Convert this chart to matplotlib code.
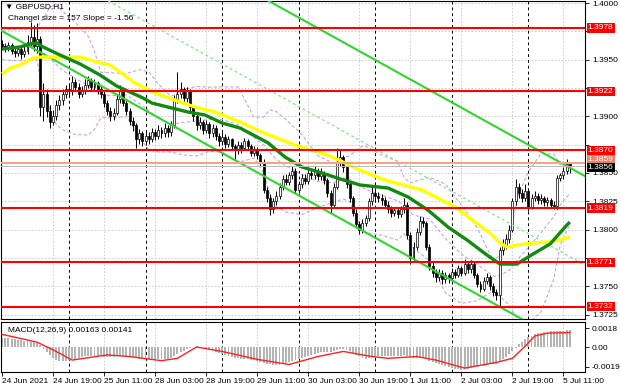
import matplotlib.pyplot as plt
import numpy as np

plt.rcParams['font.family'] = ['Liberation Sans', 'DejaVu Sans']

# GBPUSD H1, prices in pips above 1.3700
BASE = 1.3700
opens = [264, 262, 260, 263, 258, 256, 259, 255, 258, 266, 270, 262, 268, 208, 220, 205, 195, 200, 210, 214,
         220, 224, 222, 230, 226, 220, 223, 228, 232, 226, 229, 224, 220, 212, 205, 200, 203, 215, 222, 212,
         205, 196, 192, 180, 185, 178, 183, 180, 186, 183, 188, 185, 190, 186, 192, 215, 220, 224, 216, 222,
         208, 200, 192, 195, 188, 193, 185, 190, 183, 178, 182, 176, 180, 174, 170, 175, 172, 178, 174, 168,
         171, 166, 160, 135, 128, 118, 125, 130, 138, 145, 142, 148, 152, 135, 140, 146, 143, 150, 148, 152,
         147, 150, 144, 132, 122, 138, 160, 164, 155, 140, 128, 115, 105, 100, 106, 110, 125, 132, 130, 128,
         126, 122, 118, 115, 117, 114, 118, 122, 95, 75, 85, 98, 108, 106, 85, 68, 62, 58, 62, 56,
         60, 57, 63, 60, 66, 62, 70, 65, 70, 60, 52, 48, 55, 58, 50, 45, 42, 82, 86, 92,
         100, 125, 138, 132, 128, 134, 120, 128, 130, 126, 128, 124, 126, 122, 121, 146, 148, 152, 158]
highs = [267, 265, 266, 265, 261, 262, 261, 262, 272, 283, 281, 282, 271, 229, 224, 210, 206, 214, 219, 224,
         228, 229, 236, 233, 229, 227, 233, 236, 234, 233, 231, 227, 222, 214, 208, 207, 219, 228, 224, 214,
         207, 199, 194, 189, 187, 186, 186, 190, 189, 192, 191, 194, 192, 196, 219, 239, 230, 226, 226, 224,
         210, 203, 199, 197, 197, 195, 193, 192, 185, 186, 184, 183, 181, 176, 178, 177, 181, 180, 176, 174,
         173, 168, 162, 138, 131, 128, 134, 141, 148, 149, 151, 156, 154, 143, 149, 149, 153, 153, 156, 154,
         154, 152, 146, 135, 141, 172, 170, 166, 157, 142, 130, 118, 108, 109, 113, 128, 138, 135, 133, 131,
         129, 125, 121, 120, 119, 121, 128, 124, 98, 89, 101, 112, 111, 108, 87, 71, 65, 65, 64, 63,
         62, 66, 65, 69, 68, 74, 72, 73, 72, 62, 55, 58, 62, 60, 53, 48, 85, 92, 96, 104,
         128, 145, 141, 136, 140, 136, 131, 134, 132, 131, 130, 129, 128, 125, 148, 150, 155, 162, 160]
lows = [259, 257, 258, 255, 252, 253, 251, 252, 255, 262, 258, 256, 200, 196, 199, 190, 192, 197, 206, 210,
        216, 217, 219, 222, 216, 217, 220, 225, 222, 223, 220, 216, 208, 201, 196, 197, 201, 212, 209, 201,
        192, 187, 172, 176, 174, 175, 176, 177, 179, 180, 181, 182, 182, 183, 190, 212, 216, 212, 213, 204,
        196, 188, 189, 184, 185, 181, 182, 179, 174, 175, 172, 173, 170, 162, 167, 168, 170, 171, 165, 165,
        162, 156, 132, 124, 113, 115, 122, 127, 135, 139, 139, 145, 132, 132, 137, 140, 140, 145, 145, 144,
        144, 140, 129, 115, 120, 136, 156, 151, 137, 124, 112, 101, 96, 97, 103, 108, 122, 126, 124, 122,
        119, 115, 111, 112, 110, 111, 115, 92, 70, 72, 82, 95, 102, 82, 64, 58, 54, 55, 52, 53,
        53, 55, 57, 58, 59, 60, 62, 62, 57, 49, 45, 46, 52, 47, 41, 38, 32, 78, 83, 88,
        98, 122, 128, 124, 125, 116, 118, 125, 123, 123, 121, 121, 119, 118, 118, 143, 145, 149, 150]
closes = [262, 260, 263, 258, 256, 259, 255, 258, 266, 270, 262, 268, 208, 220, 205, 195, 200, 210, 214, 220,
          224, 222, 230, 226, 220, 223, 228, 232, 226, 229, 224, 220, 212, 205, 200, 203, 215, 222, 212, 205,
          196, 192, 180, 185, 178, 183, 180, 186, 183, 188, 185, 190, 186, 192, 215, 220, 224, 216, 222, 208,
          200, 192, 195, 188, 193, 185, 190, 183, 178, 182, 176, 180, 174, 170, 175, 172, 178, 174, 168, 171,
          166, 160, 135, 128, 118, 125, 130, 138, 145, 142, 148, 152, 135, 140, 146, 143, 150, 148, 152, 147,
          150, 144, 132, 122, 138, 160, 164, 155, 140, 128, 115, 105, 100, 106, 110, 125, 132, 130, 128, 126,
          122, 118, 115, 117, 114, 118, 122, 95, 75, 85, 98, 108, 106, 85, 68, 62, 58, 62, 56, 60,
          57, 63, 60, 66, 62, 70, 65, 70, 60, 52, 48, 55, 58, 50, 45, 42, 82, 86, 92, 100,
          125, 138, 132, 128, 134, 120, 128, 130, 126, 128, 124, 126, 122, 121, 146, 148, 152, 158, 156]

# moving averages (bar index, pips)
ma_fast_x = [0, 5.6, 8.8, 11, 12.9, 18.2, 24.5, 30.7, 36, 44.2, 47, 52, 58.3, 63.6, 69, 74.6, 83.4, 88.7,
             94, 100.3, 106, 112.2, 121, 127.3, 133.5, 139.8, 145.8, 152, 156.1, 161.4, 166.5, 171.8, 177.1, 178]
ma_fast_y = [259.4, 261.2, 263.8, 264.7, 261.2, 254.1, 246.2, 236.5, 226.7, 216.2, 211.7, 208.2, 203.8, 201.2,
             194.1, 189.7, 176.6, 164.1, 155.3, 150.0, 144.7, 139.4, 136.7, 128.8, 117.3, 102.3, 90.8, 77.6,
             69.6, 69.6, 78.5, 87.3, 104.1, 106.7]
ma_slow_x = [0, 2.5, 5.6, 9.7, 11.9, 18.2, 24.5, 29.8, 33.9, 37, 41.7, 48, 54.2, 60.5, 66.8, 74.6, 81.5,
             91.8, 102.2, 107.5, 112.2, 120, 131.7, 142, 148.3, 153, 156.1, 158.3, 161.4, 166.5, 171.8, 177.1, 178]
ma_slow_y = [237.3, 242.6, 245.3, 251.5, 252.3, 252.3, 252.3, 247.9, 245.3, 239.1, 229.4, 220.6, 214.4, 208.2,
             203.8, 195.0, 186.1, 174.7, 165.8, 158.8, 152.6, 143.8, 135.0, 120.0, 106.7, 97.0, 88.2, 84.6,
             86.4, 88.2, 89.1, 92.6, 93.5]

# bollinger bands (bar index, pips)
bb_x = [0, 5, 11, 12, 13, 15, 17, 19, 23, 27, 29, 31, 35, 39, 43, 46, 49, 53, 57, 61, 65, 69, 74, 79, 82,
        84, 86, 89, 94, 99, 104, 107, 109, 112, 114, 119, 124, 126, 128, 129, 134, 139, 144, 149, 154, 156,
        159, 162, 165, 169, 173, 175, 178]
bb_up = [276, 277, 277, 283, 286, 296.6, 298.5, 292.8, 282.9, 270.9, 257.4, 238.8, 238.3, 237.8, 241.1,
         239.5, 228.5, 217.5, 223.7, 226.4, 225.7, 226, 225.9, 199.2, 199.3, 205.9, 204.2, 197.2, 184, 165.2,
         158.5, 164, 164.9, 172.7, 173.7, 165.9, 160.2, 146.2, 141.2, 142.1, 146.3, 140.2, 121.8, 101.5, 72.1,
         77.4, 94.5, 131.4, 151, 167.3, 166.5, 157.2, 159.6]
bb_mid = [262, 261, 262, 258.4, 256.3, 251, 245.7, 240.5, 233.4, 227.2, 223.1, 218.8, 218.4, 218.9, 211.5,
          205, 198.5, 193, 194.8, 195.7, 197.4, 197.2, 192.6, 181.2, 174.9, 168.2, 162.2, 156.3, 148.6, 142.4,
          141.4, 145.7, 144.7, 139, 135.5, 130.5, 125.5, 121.3, 115, 112.9, 109.4, 92.2, 78.3, 69.4, 59, 59.2,
          64.1, 74.9, 84.1, 97.4, 111.5, 121.8, 132.1]
bb_lo = [250, 249, 250, 233, 226, 205.4, 192.9, 188.2, 183.9, 183.5, 188.8, 198.8, 198.5, 200, 181.9, 170.5,
         168.5, 168.5, 165.9, 165, 169.1, 168.4, 159.3, 163.2, 150.5, 130.5, 120.2, 115.4, 113.2, 119.6, 124.3,
         127, 124.5, 105.3, 97.3, 95.1, 90.8, 96.4, 88.8, 83.7, 72.5, 44.2, 34.8, 37.3, 45.9, 41, 33.7, 18.4,
         17.2, 27.5, 56.5, 86.4, 104.6]

# channel: lower line at bar 0, slope per bar, width (pips)
channel_start = 275.3
channel_slope = -1.56
channel_size = 157

levels = [1.3978, 1.3922, 1.3870, 1.3819, 1.3771, 1.3732]
bid = 1.3856
ask = 1.3859
price_ticks = [1.4000, 1.3950, 1.3900, 1.3850, 1.3825, 1.3800, 1.3750, 1.3725]

# MACD main (histogram) and signal, units of 1e-5
macd_hist = [90, 88, 86, 82, 78, 72, 66, 60, 55, 52,
             48, 45, 20, -20, -50, -80, -105, -125, -135, -140,
             -138, -130, -120, -112, -105, -98, -92, -88, -85, -84,
             -86, -90, -95, -98, -100, -98, -90, -85, -86, -90,
             -96, -102, -110, -115, -118, -120, -121, -122, -122, -120,
             -118, -116, -112, -105, -85, -65, -48, -35, -20, -8,
             2, 6, 4, -4, -14, -26, -38, -50, -60, -70,
             -80, -90, -98, -105, -110, -115, -118, -120, -125, -130,
             -135, -142, -152, -162, -170, -175, -176, -172, -165, -155,
             -145, -132, -125, -115, -105, -95, -85, -76, -68, -60,
             -52, -48, -46, -45, -38, -28, -20, -18, -25, -40,
             -58, -75, -92, -105, -112, -110, -102, -95, -90, -86,
             -84, -84, -85, -86, -86, -84, -80, -85, -100, -108,
             -110, -108, -108, -118, -132, -145, -155, -165, -172, -185,
             -195, -205, -212, -218, -220, -218, -212, -205, -198, -192,
             -186, -180, -175, -170, -166, -162, -140, -120, -98, -72,
             -40, -5, 25, 50, 75, 95, 110, 122, 132, 140,
             146, 150, 152, 153, 156, 158, 160, 162, 163]
sig_x = [0, 11, 16, 22, 33, 40, 50, 55, 61, 69, 80, 90, 99, 107, 116, 121, 130, 136, 145, 155, 160, 164, 167, 171, 178]
sig_y = [123, 47, -27, -127, -77, -93, -133, -110, 0, -43, -120, -170, -93, -43, -93, -110, -93, -127, -205,
         -150, -110, 7, 107, 135, 141]

time_ticks = [0, 16, 32, 48, 64, 80, 96, 112, 128, 144, 160, 176]
time_labels = ["24 Jun 2021", "24 Jun 19:00", "25 Jun 11:00", "28 Jun 03:00", "28 Jun 19:00", "29 Jun 11:00",
               "30 Jun 03:00", "30 Jun 19:00", "1 Jul 11:00", "2 Jul 03:00", "2 Jul 19:00", "5 Jul 11:00"]
day_starts = [21, 45, 69, 93, 117, 141, 165]


def px(v):
    return BASE + np.asarray(v, dtype=float) / 10000


o, h, l, c = px(opens), px(highs), px(lows), px(closes)
idx = np.arange(len(c))

W, H = 620, 388
FS = 6
fig = plt.figure(figsize=(6.2, 3.88), dpi=100)
ax = fig.add_axes([1 / W, 1 - 319 / H, 584 / W, 318 / H])
ax2 = fig.add_axes([1 / W, 1 - 372 / H, 584 / W, 50 / H], sharex=ax)

ax.set_xlim(-0.31, 182.76)
ax.set_ylim(1.37211, 1.40018)

# grid
for t in np.arange(1.3725, 1.4001, 0.0025):
    ax.axhline(t, color='#c8c8c8', lw=0.6, ls=(0, (2, 2)), zorder=0)
for b in time_ticks[1:]:
    for a in (ax, ax2):
        a.axvline(b, color='#c8c8c8', lw=0.6, ls=(0, (2, 2)), zorder=0)
for b in day_starts:
    for a in (ax, ax2):
        a.axvline(b, color='black', lw=0.7, ls=(0, (3, 3)), zorder=1)

# bollinger bands
for band in (bb_up, bb_mid, bb_lo):
    ax.plot(bb_x, px(band), color='#c9a2ec', lw=0.8, ls=(0, (3, 2)), zorder=2)

# candles
ax.vlines(idx, l, h, color='black', lw=0.7, zorder=3)
up = c >= o
body = np.maximum(np.abs(c - o), 0.00004)
ax.bar(idx[up], body[up], bottom=np.minimum(o, c)[up], width=0.62, color='white',
       edgecolor='black', lw=0.5, zorder=4)
ax.bar(idx[~up], body[~up], bottom=np.minimum(o, c)[~up], width=0.62, color='black',
       edgecolor='black', lw=0.5, zorder=4)

# channel
for off, style, col, lw in ((0, '-', '#2fd62f', 1.5), (channel_size, '-', '#2fd62f', 1.5),
                            (channel_size / 2, (0, (2, 2)), '#8ee88e', 1.0)):
    ax.axline((0, px(channel_start + off)), slope=channel_slope / 10000,
              color=col, lw=lw, ls=style, zorder=5)

# moving averages
ax.plot(ma_slow_x, px(ma_slow_y), color='#ffff00', lw=2.4, zorder=6, solid_capstyle='butt')
ax.plot(ma_fast_x, px(ma_fast_y), color='#108a10', lw=2.4, zorder=6, solid_capstyle='butt')

# levels
for lv in levels:
    ax.axhline(lv, color='#ff0000', lw=1.5, zorder=7)
ax.axhline(ask, color='#f4a582', lw=1.5, zorder=7)
ax.axhline(bid, color='#b8b8b8', lw=0.7, zorder=7)

# right price scale
ax.yaxis.tick_right()
ax.set_yticks(np.arange(1.3725, 1.4001, 0.0025), minor=True)
ax.set_yticks(price_ticks)
ax.set_yticklabels(['%.4f' % v for v in price_ticks])
ax.tick_params(axis='y', which='both', labelsize=FS, length=3, pad=2, width=0.6)
ax.tick_params(axis='x', bottom=False, labelbottom=False)

box = dict(boxstyle='square,pad=0.15', ec='none')
for lv in levels:
    ax.annotate('%.4f' % lv, xy=(1, lv), xycoords=('axes fraction', 'data'), xytext=(2, 0),
                textcoords='offset points', va='center', ha='left', fontsize=FS, color='white',
                bbox=dict(box, fc='#ff0000'), annotation_clip=False)
ax.annotate('%.4f' % ask, xy=(1, ask), xycoords=('axes fraction', 'data'), xytext=(2, 2),
            textcoords='offset points', va='center', ha='left', fontsize=FS, color='white',
            bbox=dict(box, fc='#f08060'), annotation_clip=False)
ax.annotate('%.4f' % bid, xy=(1, bid), xycoords=('axes fraction', 'data'), xytext=(2, -1),
            textcoords='offset points', va='center', ha='left', fontsize=FS, color='white',
            bbox=dict(box, fc='black'), annotation_clip=False)

ax.text(0.006, 0.982, '\u25bc GBPUSD,H1', transform=ax.transAxes, fontsize=FS, va='center')
ax.text(0.012, 0.945, 'Changel size = %d Slope = %.2f' % (channel_size, channel_slope),
        transform=ax.transAxes, fontsize=FS, va='center')

# MACD pane
ax2.set_ylim(-0.00243, 0.00243)
ax2.bar(idx, np.array(macd_hist) / 1e5, width=0.6, color='#b4b4b4', zorder=2)
ax2.plot(sig_x, np.array(sig_y) / 1e5, color='#ff2020', lw=1.0, zorder=3)
ax2.yaxis.tick_right()
ax2.set_yticks([0.0018, 0.0, -0.0019])
ax2.set_yticklabels(['0.0018', '0.00', '-0.0019'])
ax2.tick_params(axis='y', labelsize=FS, length=3, pad=1.5, width=0.6)
ax2.text(0.012, 0.82, 'MACD(12,26,9) %.5f %.5f' % (macd_hist[-1] / 1e5, sig_y[-1] / 1e5),
         transform=ax2.transAxes, fontsize=FS, va='center')

ax2.set_xticks(time_ticks)
ax2.set_xticklabels(time_labels, ha='left')
ax2.tick_params(axis='x', labelsize=FS, length=3, pad=1.5, width=0.6)

for a in (ax, ax2):
    for s in a.spines.values():
        s.set_linewidth(0.8)

fig.savefig('out.png', dpi=100)
